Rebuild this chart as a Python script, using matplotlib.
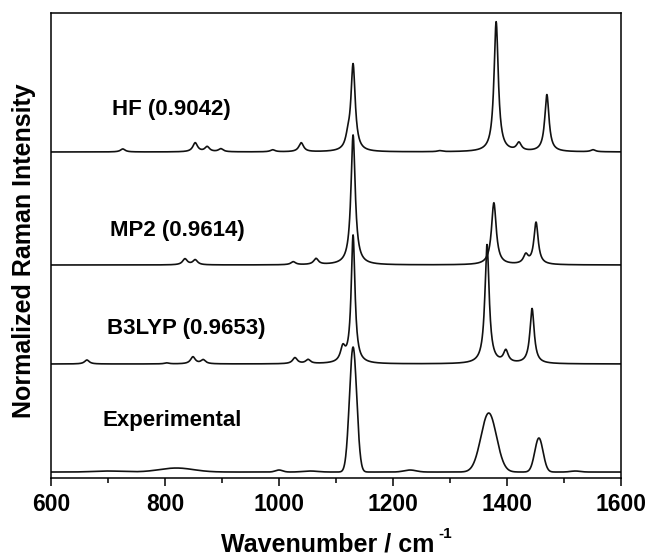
import numpy as np
import matplotlib
matplotlib.use("Agg")
import matplotlib.pyplot as plt

plt.rcParams['font.family'] = ['Liberation Sans', 'DejaVu Sans']
plt.rcParams['font.weight'] = 'bold'

# peak lists: (wavenumber, height, fwhm)
hf_peaks = [(726, 3, 10), (853, 9, 10), (874, 5, 10), (898, 3, 10), (989, 2, 10),
            (1039, 9, 10), (1121, 10, 10), (1130, 86, 9), (1282, 1, 10),
            (1381, 130, 9), (1421, 8, 10), (1470, 57, 9), (1551, 2, 10)]
mp2_peaks = [(835, 6, 10), (853, 5, 10), (1025, 3, 10), (1065, 6, 10),
             (1130, 130, 9), (1377, 62, 10), (1433, 9, 10), (1451, 42, 9)]
b3lyp_peaks = [(663, 4, 10), (803, 1, 10), (849, 7, 10), (867, 4, 10),
               (1028, 6, 10), (1051, 4, 10), (1112, 14, 10), (1130, 128, 8),
               (1365, 119, 9), (1398, 12, 10), (1444, 55, 9)]
exp_peaks = [(700, 1, 60), (820, 4, 70), (1000, 2, 15), (1055, 1, 30),
             (1130, 125, 15), (1230, 2, 25), (1368, 59, 32), (1456, 34, 17),
             (1520, 1, 20)]

names = ['Experimental', 'B3LYP (0.9653)', 'MP2 (0.9614)', 'HF (0.9042)']
offsets = [6, 114, 213, 326]
label_y = [58, 150, 248, 368]
label_x = [691, 698, 703, 707]

x = np.linspace(600, 1600, 2001)


def lorentz(peaks):
    y = np.zeros_like(x)
    for c, h, w in peaks:
        y += h * (w / 2) ** 2 / ((x - c) ** 2 + (w / 2) ** 2)
    return y


def gauss(peaks):
    y = np.zeros_like(x)
    for c, h, w in peaks:
        y += h * np.exp(-4 * np.log(2) * (x - c) ** 2 / w ** 2)
    return y


spectra = [gauss(exp_peaks), lorentz(b3lyp_peaks), lorentz(mp2_peaks), lorentz(hf_peaks)]

W, H = 648, 555
fig = plt.figure(figsize=(W / 100, H / 100), dpi=100)
ax = fig.add_axes([0.0787, 0.1387, 0.8796, 0.8379])

for s, off, name, lx, ly in zip(spectra, offsets, names, label_x, label_y):
    ax.plot(x, s + off, color='#111111', linewidth=1.2)
    ax.text(lx, ly, name, fontsize=16, fontweight='bold', va='center', ha='left')

ax.set_xlim(600, 1600)
ax.set_ylim(0, 465)
ax.set_xticks(np.arange(600, 1601, 200))
ax.set_xticks(np.arange(700, 1600, 200), minor=True)
ax.set_yticks([])
ax.tick_params(axis='x', which='major', direction='out', length=6, width=1.1,
               labelsize=16.5, pad=5)
ax.tick_params(axis='x', which='minor', direction='out', length=3.5, width=1.1)
for sp in ax.spines.values():
    sp.set_linewidth(1.1)

# axis titles placed in figure pixels
fig.text(24 / W, 1 - 251 / H, 'Normalized Raman Intensity', fontsize=18,
         fontweight='bold', rotation=90, ha='center', va='center')
xl = fig.text(221 / W, 1 - 544 / H, 'Wavenumber / cm', fontsize=18,
              fontweight='bold', ha='left', va='center')
fig.canvas.draw()
bb = xl.get_window_extent()
fig.text((bb.x1 + 4) / W, 1 - 527 / H, '-1', fontsize=11, fontweight='bold',
         ha='left', va='top')

plt.savefig('out.png', dpi=100)
